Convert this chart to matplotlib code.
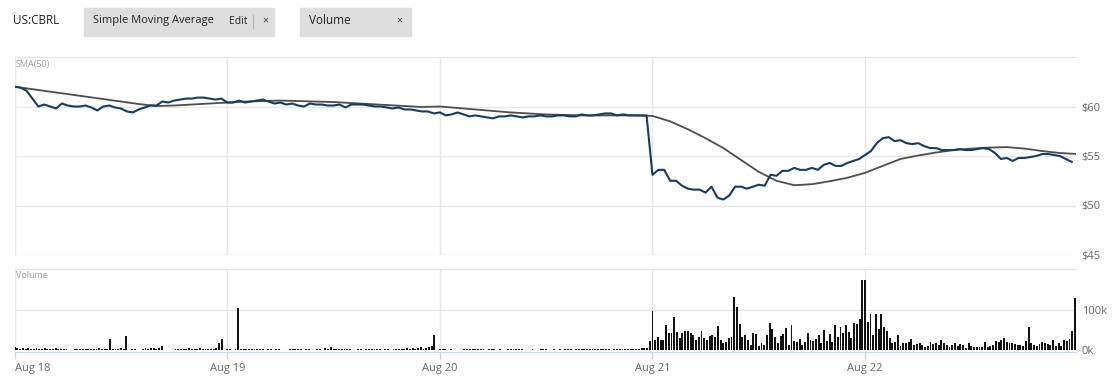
import numpy as np
import matplotlib
matplotlib.use("Agg")
import matplotlib.pyplot as plt
from matplotlib.patches import Rectangle

plt.rcParams['font.family'] = ['Open Sans', 'DejaVu Sans']

# --- data ---
days = ['Aug 18', 'Aug 19', 'Aug 20', 'Aug 21', 'Aug 22']
bars_per_day = 78

# price, evenly spaced samples through each session
p_aug18 = [62.0, 61.9, 61.6, 60.8, 60.0, 60.2, 60.0, 59.8, 60.3, 60.1, 60.0, 60.0,
           60.1, 59.9, 59.6, 60.0, 60.1, 59.9, 59.8, 59.5, 59.4, 59.7, 59.9, 60.1,
           60.1, 60.5, 60.4, 60.6, 60.7, 60.8, 60.8, 60.9, 60.9, 60.8, 60.7, 60.8]
p_aug19 = [60.4, 60.4, 60.6, 60.4, 60.5, 60.6, 60.7, 60.5, 60.3, 60.4, 60.2, 60.3,
           60.1, 60.0, 60.3, 60.2, 60.2, 60.1, 60.1, 60.2, 59.9, 60.2, 60.2, 60.2,
           60.1, 60.0, 60.0, 59.9, 59.8, 59.9, 59.7, 59.7, 59.6, 59.5, 59.5, 59.3]
p_aug20 = [59.4, 59.1, 59.2, 59.4, 59.2, 59.0, 59.1, 59.0, 58.9, 58.8, 59.0, 59.0,
           59.1, 59.0, 58.9, 59.0, 59.0, 59.1, 59.0, 59.0, 59.1, 59.1, 59.0, 59.0,
           59.2, 59.1, 59.1, 59.2, 59.3, 59.3, 59.1, 59.2, 59.1, 59.1, 59.1, 59.1]
p_aug21 = [53.1, 53.6, 53.6, 52.5, 52.5, 52.0, 51.7, 51.6, 51.6, 51.3, 51.9, 50.8,
           50.6, 51.0, 51.9, 51.9, 51.7, 51.9, 52.1, 52.0, 53.1, 53.0, 53.5, 53.5,
           53.8, 53.6, 53.6, 53.8, 53.6, 54.1, 54.3, 54.0, 54.0, 54.3, 54.5, 54.7]
p_aug22 = [55.1, 55.5, 56.3, 56.8, 56.9, 56.5, 56.6, 56.3, 56.2, 56.3, 56.0, 55.8,
           55.8, 55.6, 55.6, 55.6, 55.7, 55.6, 55.6, 55.7, 55.8, 55.7, 55.3, 54.7,
           54.8, 54.5, 54.8, 54.8, 54.9, 55.0, 55.2, 55.2, 55.1, 55.0, 54.7, 54.4]

# SMA(50), 12 samples per session plus the closing value
sma = [62.0, 61.75, 61.5, 61.25, 61.0, 60.75, 60.5, 60.25, 60.05, 60.1, 60.2, 60.3,
       60.4, 60.5, 60.55, 60.6, 60.55, 60.5, 60.45, 60.35, 60.25, 60.15, 60.05, 59.95,
       60.0, 59.85, 59.7, 59.55, 59.4, 59.3, 59.2, 59.15, 59.1, 59.1, 59.1, 59.1,
       59.05, 58.5, 57.7, 56.8, 55.8, 54.6, 53.4, 52.5, 52.05, 52.15, 52.45, 52.8,
       53.3, 54.0, 54.7, 55.05, 55.35, 55.6, 55.75, 55.85, 55.9, 55.75, 55.5, 55.3, 55.2]

# volume in thousands, one 5-minute bar each
v_aug18 = [8, 4, 3, 4, 3, 4, 3, 3, 4, 3, 3, 5, 3, 3, 2, 4, 2, 3, 3, 2,
           0, 0, 2, 2, 3, 2, 2, 3, 2, 2, 3, 4, 3, 2, 3, 27, 3, 2, 2, 4,
           2, 35, 0, 3, 3, 0, 0, 2, 4, 3, 5, 4, 3, 4, 10, 0, 0, 0, 0, 2,
           3, 2, 3, 3, 4, 2, 3, 3, 4, 2, 3, 3, 2, 3, 5, 17, 28, 0]
v_aug19 = [3, 2, 0, 2, 104, 2, 3, 2, 2, 3, 3, 2, 2, 2, 0, 2, 2, 0, 2, 2,
           0, 0, 0, 2, 2, 2, 2, 2, 0, 2, 2, 0, 0, 2, 2, 0, 4, 2, 8, 3,
           3, 2, 2, 2, 2, 2, 0, 0, 2, 2, 0, 2, 2, 2, 2, 3, 2, 0, 2, 2,
           0, 2, 2, 2, 2, 3, 4, 3, 4, 3, 4, 7, 3, 4, 8, 10, 37, 0]
v_aug20 = [2, 2, 2, 0, 2, 0, 0, 0, 0, 2, 2, 2, 3, 2, 3, 2, 2, 0, 2, 2,
           2, 0, 2, 0, 0, 2, 2, 2, 2, 2, 2, 0, 0, 0, 3, 0, 0, 2, 2, 2,
           0, 0, 2, 0, 3, 0, 2, 2, 2, 0, 2, 2, 2, 2, 3, 2, 2, 2, 2, 2,
           2, 2, 2, 0, 2, 2, 2, 2, 2, 2, 2, 2, 3, 3, 4, 4, 6, 22]
v_aug21 = [97, 25, 32, 25, 25, 62, 42, 42, 82, 46, 29, 43, 48, 48, 43, 37, 25, 33, 48, 29,
           25, 35, 37, 33, 60, 25, 18, 21, 29, 32, 133, 108, 65, 33, 37, 25, 12, 43, 40, 10,
           17, 12, 37, 67, 52, 33, 17, 35, 40, 54, 12, 62, 23, 21, 27, 12, 21, 42, 25, 23,
           27, 37, 18, 50, 23, 40, 21, 62, 33, 58, 43, 62, 46, 29, 68, 65, 77, 175]
v_aug22 = [175, 71, 90, 37, 90, 52, 90, 57, 48, 29, 18, 21, 37, 10, 17, 18, 21, 27, 12, 15,
           18, 12, 8, 10, 21, 15, 18, 12, 25, 18, 12, 8, 12, 17, 10, 15, 12, 4, 17, 10,
           8, 7, 7, 8, 21, 8, 10, 12, 23, 21, 25, 29, 21, 17, 17, 15, 12, 12, 10, 23,
           57, 18, 12, 10, 15, 21, 17, 15, 12, 25, 10, 17, 10, 25, 23, 27, 48, 129]

price_days = [p_aug18, p_aug19, p_aug20, p_aug21, p_aug22]
vol_days = [v_aug18, v_aug19, v_aug20, v_aug21, v_aug22]

# positions in bar units (one unit = one 5-minute bar)
px, py = [], []
for d, vals in enumerate(price_days):
    px.extend(d * bars_per_day + np.arange(len(vals)) * bars_per_day / len(vals))
    py.extend(vals)
vx, vy = [], []
for d, vals in enumerate(vol_days):
    vx.extend(d * bars_per_day + np.arange(len(vals)) * bars_per_day / len(vals))
    vy.extend(vals)
sx = np.arange(len(sma)) * bars_per_day / 12

W, H = 1117, 392
fig = plt.figure(figsize=(W / 100, H / 100), dpi=100)
fig.patch.set_facecolor('white')

def pix_axes(x0, y0, x1, y1):
    return fig.add_axes([x0 / W, 1 - y1 / H, (x1 - x0) / W, (y1 - y0) / H])

grid_c = '#e6e6e6'
lab_c = '#666666'
xmax = 5 * bars_per_day - 0.6
day_ticks = np.arange(len(days)) * bars_per_day

# --- price panel ---
ax = pix_axes(14.7, 57, 1076, 255)
ax.plot(sx, sma, color='#4d4d4d', lw=1.3, zorder=3)
ax.plot(px, py, color='#1c3a5e', lw=1.5, zorder=4)
ax.set_xlim(0, xmax)
ax.set_ylim(45, 65)
ax.set_yticks([45, 50, 55, 60])
ax.set_yticklabels(['$45', '$50', '$55', '$60'])
ax.yaxis.tick_right()
ax.tick_params(axis='y', length=0, pad=4, labelsize=8, labelcolor=lab_c)
ax.set_xticks(day_ticks)
ax.tick_params(axis='x', length=0, labelbottom=False)
ax.grid(True, color=grid_c, lw=1)
for s in ['right', 'bottom']:
    ax.spines[s].set_visible(False)
for s in ['top', 'left']:
    ax.spines[s].set_color(grid_c)
ax.text(0.001, 0.985, 'SMA(50)', transform=ax.transAxes, fontsize=6.5,
        color='#999999', va='top', ha='left')

# --- volume panel ---
av = pix_axes(14.7, 269, 1076, 350)
av.bar(vx, vy, width=0.7, color='#111111', align='center', zorder=3)
av.set_xlim(0, xmax)
av.set_ylim(0, 202.5)
av.set_yticks([0, 100])
av.set_yticklabels(['0k', '100k'])
av.yaxis.tick_right()
av.tick_params(axis='y', length=0, pad=4, labelsize=8, labelcolor=lab_c)
av.set_xticks(day_ticks)
av.set_xticklabels([''] + days[1:])
av.tick_params(axis='x', length=5, width=1, color='#ccd6eb', pad=3,
               labelsize=8, labelcolor=lab_c)
# first date label sits flush with the left edge
av.annotate(days[0], xy=(0, 0), xycoords=('data', 'axes fraction'),
            xytext=(0, -9.5), textcoords='offset points', ha='left', va='top',
            fontsize=8, color=lab_c, annotation_clip=False)
av.grid(True, color=grid_c, lw=1)
av.spines['right'].set_visible(False)
av.spines['top'].set_color(grid_c)
av.spines['left'].set_color(grid_c)
av.spines['bottom'].set_color('#ccd6eb')
av.spines['bottom'].set_position(('outward', 1.5))
av.text(0.001, 0.97, 'Volume', transform=av.transAxes, fontsize=6.5,
        color='#999999', va='top', ha='left')

# --- header ---
fig.text(13 / W, 1 - 21 / H, 'US:CBRL', fontsize=8.5, color='#222222', va='center')
fig.patches.append(Rectangle((84 / W, 1 - 36 / H), 190 / W, 28 / H,
                             transform=fig.transFigure, color='#dedede', zorder=0))
fig.patches.append(Rectangle((300 / W, 1 - 36 / H), 111 / W, 28 / H,
                             transform=fig.transFigure, color='#dedede', zorder=0))
fig.lines.append(plt.Line2D([253 / W, 253 / W], [1 - 28 / H, 1 - 15 / H],
                            transform=fig.transFigure, color='#b5b5b5', lw=0.8))
fig.text(93 / W, 1 - 21 / H, 'Simple Moving Average', fontsize=8, color='#222222', va='center')
fig.text(229 / W, 1 - 21 / H, 'Edit', fontsize=7.5, color='#222222', va='center')
fig.text(262 / W, 1 - 21 / H, '×', fontsize=7.5, color='#333333', va='center')
fig.text(309 / W, 1 - 21 / H, 'Volume', fontsize=8.5, color='#222222', va='center')
fig.text(396 / W, 1 - 21 / H, '×', fontsize=7.5, color='#333333', va='center')

fig.savefig('out.png', dpi=100, facecolor='white')
